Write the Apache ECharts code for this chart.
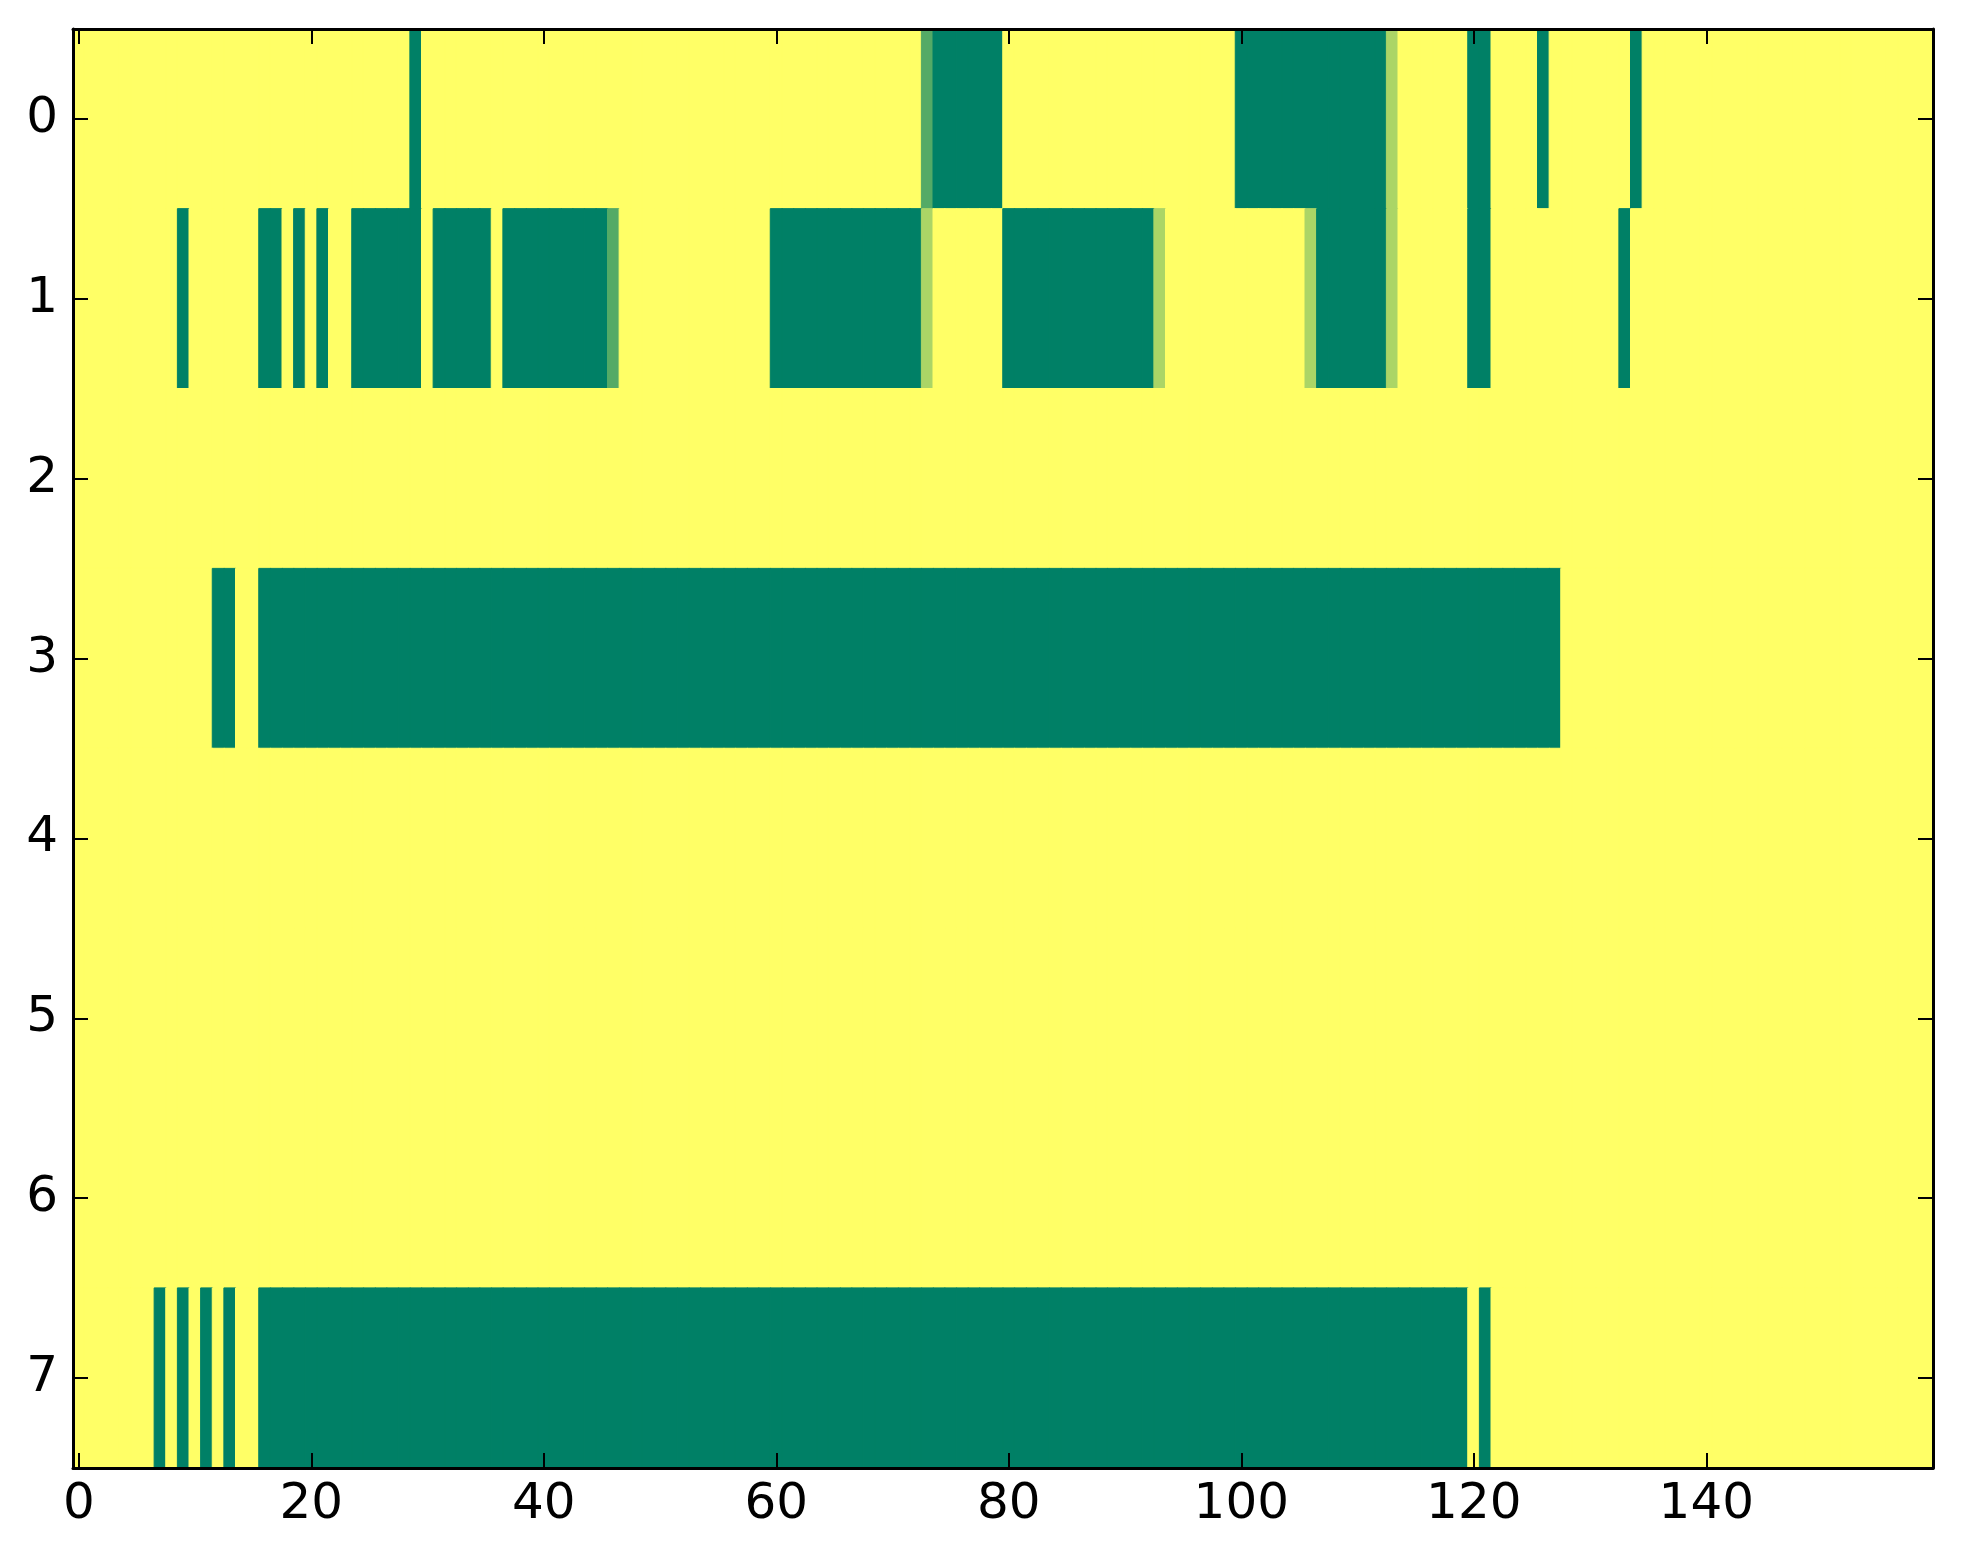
<!DOCTYPE html>
<html>
<head>
<meta charset="utf-8">
<script src="https://cdn.jsdelivr.net/npm/echarts@6/dist/echarts.min.js"></script>
<style>
  html, body { margin: 0; padding: 0; background: #ffffff; }
  #chart { width: 1963px; height: 1564px; }
</style>
</head>
<body>
<div id="chart"></div>
<script>
// ---- data ----
const rowLabels = ['0', '1', '2', '3', '4', '5', '6', '7'];
const columnCount = 160;
const xTickLabels = ['0', '20', '40', '60', '80', '100', '120', '140'];
const backgroundValue = 1;          // yellow cells
// runs per row: [firstColumn, lastColumn, value]
const row0Runs = [[29, 29, 0], [73, 73, 0.33], [74, 79, 0], [100, 112, 0], [113, 113, 0.67],
                  [120, 121, 0], [126, 126, 0], [134, 134, 0]];
const row1Runs = [[9, 9, 0], [16, 17, 0], [19, 19, 0], [21, 21, 0], [24, 29, 0], [31, 35, 0],
                  [37, 45, 0], [46, 46, 0.33], [60, 72, 0], [73, 73, 0.67], [80, 92, 0],
                  [93, 93, 0.67], [106, 106, 0.67], [107, 112, 0], [113, 113, 0.67],
                  [120, 121, 0], [133, 133, 0]];
const row2Runs = [];
const row3Runs = [[12, 13, 0], [16, 127, 0]];
const row4Runs = [];
const row5Runs = [];
const row6Runs = [];
const row7Runs = [[7, 7, 0], [9, 9, 0], [11, 11, 0], [13, 13, 0], [16, 119, 0], [121, 121, 0]];

// matplotlib "summer" colormap: (v, 0.5 + v/2, 0.4)
function summer(v) {
  const r = Math.round(255 * v), g = Math.round(255 * (0.5 + v / 2)), b = Math.round(255 * 0.4);
  return 'rgb(' + r + ',' + g + ',' + b + ')';
}

// ---- build matrix ----
const allRuns = [row0Runs, row1Runs, row2Runs, row3Runs, row4Runs, row5Runs, row6Runs, row7Runs];
const columns = [];
for (let c = 0; c < columnCount; c++) columns.push(String(c));
const cells = [];
allRuns.forEach((runs, r) => {
  const row = new Array(columnCount).fill(backgroundValue);
  runs.forEach(([a, b, v]) => { for (let c = a; c <= b; c++) row[c] = v; });
  row.forEach((v, c) => {
    const col = summer(v);
    cells.push({ value: [c, r, v], itemStyle: { color: col, borderColor: col, borderWidth: 1 } });
  });
});

const FONT = 'DejaVu Sans';
const tickInterval = 19;

const chart = echarts.init(document.getElementById('chart'), null, { renderer: 'canvas' });
const axisLine = { show: true, lineStyle: { color: '#000', width: 3 } };
const xTick = { show: true, inside: true, length: 15, alignWithLabel: true, interval: tickInterval,
                lineStyle: { color: '#000', width: 2 } };
const yTick = { show: true, inside: true, length: 15, alignWithLabel: true,
                lineStyle: { color: '#000', width: 2 } };

chart.setOption({
  animation: false,
  backgroundColor: '#ffffff',
  grid: { left: 73, right: 30, top: 29, bottom: 96, containLabel: false },
  xAxis: [
    { type: 'category', data: columns, position: 'bottom', boundaryGap: true, z: 10,
      axisLine: axisLine, axisTick: xTick, splitLine: { show: false },
      axisLabel: { show: true, interval: tickInterval, color: '#000', fontFamily: FONT, fontSize: 50, margin: 12,
        formatter: v => (xTickLabels.indexOf(v) >= 0 ? v : '') } },
    { type: 'category', data: columns, position: 'top', boundaryGap: true, z: 10,
      axisLine: axisLine, axisTick: xTick, axisLabel: { show: false }, splitLine: { show: false } }
  ],
  yAxis: [
    { type: 'category', data: rowLabels, inverse: true, position: 'left', z: 10,
      axisLine: axisLine, axisTick: yTick, splitLine: { show: false },
      axisLabel: { show: true, color: '#000', fontFamily: FONT, fontSize: 50, margin: 15 } },
    { type: 'category', data: rowLabels, inverse: true, position: 'right', z: 10,
      axisLine: axisLine, axisTick: yTick, axisLabel: { show: false }, splitLine: { show: false } }
  ],
  series: [{
    type: 'heatmap', xAxisIndex: 0, yAxisIndex: 0, data: cells,
    progressive: 0,
    emphasis: { disabled: true }
  }]
});
</script>
</body>
</html>
